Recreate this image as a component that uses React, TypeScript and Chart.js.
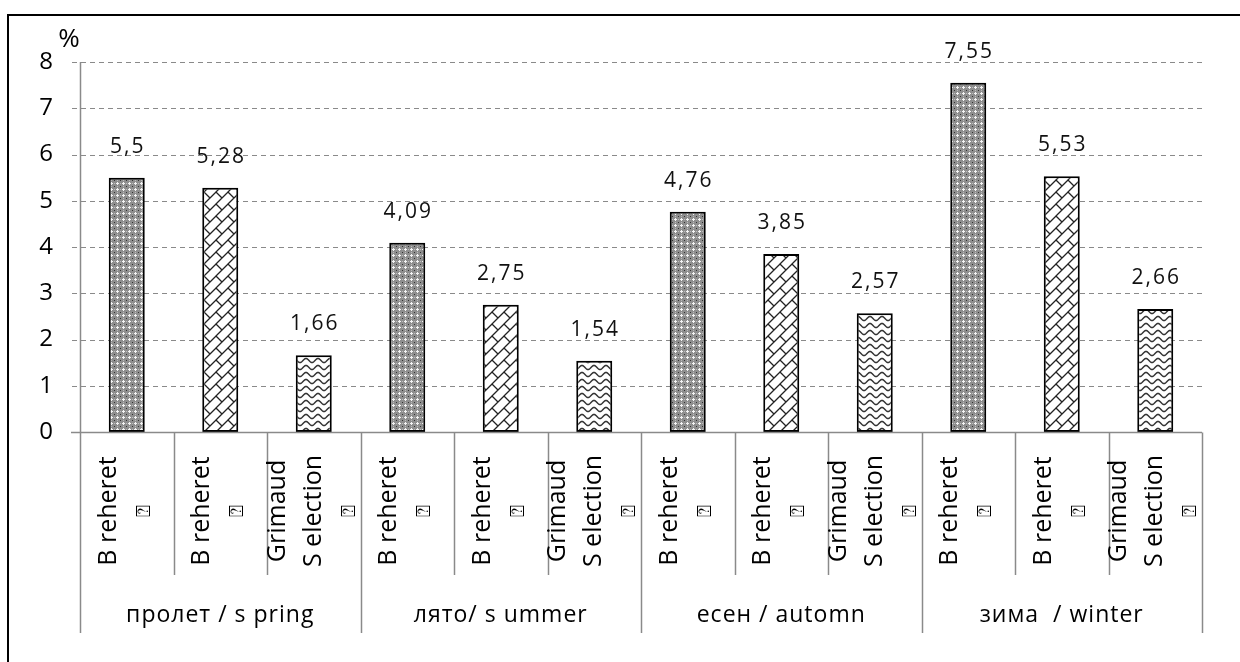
import React, { useEffect, useRef } from "react";
import { Chart, registerables } from "chart.js";

Chart.register(...registerables);

const groupLabels = ["пролет / s pring", "лято/ s ummer", "есен / automn", "зима  / winter"];
const seriesTickLabels: string[][] = [
  ["B reheret", "⍰"],
  ["B reheret", "⍰"],
  ["Grimaud", "S election", "⍰"],
];
const breheretA = [5.5, 4.09, 4.76, 7.55];
const breheretB = [5.28, 2.75, 3.85, 5.53];
const grimaudSel = [1.66, 1.54, 2.57, 2.66];
const yMin = 0;
const yMax = 8;
const yStep = 1;
const yUnit = "%";

const FONT = "'Open Sans', 'DejaVu Sans', sans-serif";
const GRID = "#8a8a8a";

function tile(w: number, h: number, draw: (c: CanvasRenderingContext2D) => void) {
  const cv = document.createElement("canvas");
  cv.width = w;
  cv.height = h;
  const c = cv.getContext("2d")!;
  draw(c);
  return c.createPattern(cv, "repeat")!;
}

function dotsPattern() {
  return tile(6, 6, (c) => {
    c.fillStyle = "#8e8e8e";
    c.fillRect(0, 0, 6, 6);
    c.fillStyle = "#f4f4f4";
    c.fillRect(3, 2, 1, 3);
    c.fillRect(2, 3, 3, 1);
    c.fillStyle = "#bdbdbd";
    c.fillRect(3, 0, 1, 1);
    c.fillRect(0, 3, 1, 1);
    c.fillStyle = "#333";
    c.fillRect(0, 0, 1, 1);
  });
}

function brickPattern() {
  return tile(12, 12, (c) => {
    c.fillStyle = "#ffffff";
    c.fillRect(0, 0, 12, 12);
    c.strokeStyle = "#222";
    c.lineWidth = 1.3;
    c.beginPath();
    c.moveTo(-1, 13);
    c.lineTo(13, -1);
    c.moveTo(-2, 2);
    c.lineTo(2, -2);
    c.moveTo(10, 14);
    c.lineTo(14, 10);
    c.moveTo(0, 0);
    c.lineTo(6, 6);
    c.stroke();
  });
}

function wavePattern() {
  return tile(12, 7, (c) => {
    c.fillStyle = "#ffffff";
    c.fillRect(0, 0, 12, 7);
    c.strokeStyle = "#333";
    c.lineWidth = 1.5;
    c.beginPath();
    for (let x = -1; x <= 13; x += 0.5) {
      const y = 3.5 + 2 * Math.cos((2 * Math.PI * x) / 12);
      if (x === -1) c.moveTo(x, y);
      else c.lineTo(x, y);
    }
    c.stroke();
  });
}

const fmt = (v: number) => String(v).replace(".", ",");

const overlay = {
  id: "overlay",
  beforeDatasetsDraw(chart: any) {
    const { ctx, chartArea, scales } = chart;
    const y = scales.y;
    ctx.save();
    ctx.strokeStyle = GRID;
    ctx.lineWidth = 1;
    ctx.setLineDash([5, 4]);
    y.ticks.forEach((t: any) => {
      if (t.value === yMin) return;
      const py = Math.round(y.getPixelForValue(t.value)) + 0.5;
      ctx.beginPath();
      ctx.moveTo(chartArea.left - 8, py);
      ctx.lineTo(chartArea.right, py);
      ctx.stroke();
    });
    ctx.restore();
  },
  afterDatasetsDraw(chart: any) {
    const { ctx } = chart;
    ctx.save();
    ctx.fillStyle = "#111";
    ctx.font = `21px ${FONT}`;
    ctx.textAlign = "center";
    ctx.textBaseline = "middle";
    (ctx as any).letterSpacing = "2px";
    chart.data.datasets.forEach((ds: any, i: number) => {
      const meta = chart.getDatasetMeta(i);
      meta.data.forEach((bar: any, j: number) => {
        ctx.fillText(fmt(ds.data[j]), bar.x + 1, bar.y - 31);
      });
    });
    ctx.restore();
  },
  afterDraw(chart: any) {
    const { ctx, chartArea, scales } = chart;
    const y = scales.y;
    const y0 = Math.round(y.getPixelForValue(yMin)) + 0.5;
    const axisBottom = 633;
    const innerBottom = 575;
    ctx.save();
    // zero line
    ctx.strokeStyle = GRID;
    ctx.lineWidth = 1.5;
    ctx.beginPath();
    ctx.moveTo(chartArea.left - 9, y0);
    ctx.lineTo(chartArea.right, y0);
    ctx.stroke();
    // y-axis line
    const ax = Math.round(chartArea.left) + 0.5;
    ctx.beginPath();
    ctx.moveTo(ax, chartArea.top);
    ctx.lineTo(ax, axisBottom);
    ctx.stroke();

    const metas = chart.data.datasets.map((_: any, i: number) => chart.getDatasetMeta(i));
    const nGroups = groupLabels.length;
    for (let j = 0; j < nGroups; j++) {
      const xs = metas.map((m: any) => m.data[j].x);
      const slot = xs[1] - xs[0];
      const left = xs[0] - slot / 2;
      const right = xs[xs.length - 1] + slot / 2;
      ctx.lineWidth = 1.5;
      ctx.strokeStyle = GRID;
      ctx.beginPath();
      ctx.moveTo(Math.round(right) + 0.5, y0);
      ctx.lineTo(Math.round(right) + 0.5, axisBottom);
      for (let k = 0; k < xs.length - 1; k++) {
        const mx = Math.round((xs[k] + xs[k + 1]) / 2) + 0.5;
        ctx.moveTo(mx, y0);
        ctx.lineTo(mx, innerBottom);
      }
      ctx.stroke();

      // rotated series labels
      ctx.fillStyle = "#000";
      xs.forEach((bx: number, i: number) => {
        const lines = seriesTickLabels[i];
        const n = lines.length;
        lines.forEach((txt, k) => {
          const off = (k - (n - 1) / 2) * 36;
          ctx.save();
          ctx.translate(bx + off, 511);
          ctx.rotate(-Math.PI / 2);
          ctx.textAlign = "center";
          ctx.textBaseline = "middle";
          const isGlyph = txt === "⍰";
          ctx.font = isGlyph ? `20px 'DejaVu Sans', ${FONT}` : `25px ${FONT}`;
          ctx.fillText(txt, 0, 0);
          ctx.restore();
        });
      });

      // group label
      ctx.font = `23px ${FONT}`;
      ctx.textAlign = "center";
      ctx.textBaseline = "middle";
      (ctx as any).letterSpacing = "1px";
      ctx.fillText(groupLabels[j], (left + right) / 2, 615);
      (ctx as any).letterSpacing = "0px";
    }

    // unit label
    ctx.font = `26px ${FONT}`;
    ctx.textAlign = "center";
    ctx.textBaseline = "middle";
    ctx.fillText(yUnit, 69, 40);

    // outer frame
    ctx.strokeStyle = "#000";
    ctx.lineWidth = 2;
    ctx.beginPath();
    ctx.moveTo(8, 662);
    ctx.lineTo(8, 15);
    ctx.lineTo(1240, 15);
    ctx.stroke();
    ctx.restore();
  },
};

export default function App() {
  const ref = useRef<HTMLCanvasElement>(null);
  useEffect(() => {
    const canvas = ref.current!;
    const mk = (label: string, data: number[], bg: any) => ({
      label,
      data,
      backgroundColor: bg,
      borderColor: "#000",
      borderWidth: 2,
      borderSkipped: false,
      categoryPercentage: 1,
      barPercentage: 0.385,
    });
    const chart = new Chart(canvas, {
      type: "bar",
      data: {
        labels: groupLabels,
        datasets: [
          mk("Breheret 1", breheretA, dotsPattern()),
          mk("Breheret 2", breheretB, brickPattern()),
          mk("Grimaud Selection", grimaudSel, wavePattern()),
        ],
      },
      options: {
        responsive: false,
        animation: false,
        devicePixelRatio: 1,
        layout: { padding: { left: 0, top: 62, right: 38, bottom: 230 } },
        plugins: { legend: { display: false }, tooltip: { enabled: false } },
        scales: {
          x: { display: false },
          y: {
            min: yMin,
            max: yMax,
            ticks: {
              stepSize: yStep,
              color: "#000",
              font: { family: FONT, size: 24 },
              padding: 19,
            },
            grid: { display: false },
            border: { display: false },
            afterFit: (s: any) => {
              s.width = 80;
            },
          },
        },
      },
      plugins: [overlay],
    });
    return () => chart.destroy();
  }, []);
  return (
    <div style={{ position: "fixed", left: 0, top: 0, width: 1240, height: 662, background: "#fff" }}>
      <canvas ref={ref} width={1240} height={662} style={{ width: 1240, height: 662, display: "block" }} />
    </div>
  );
}
